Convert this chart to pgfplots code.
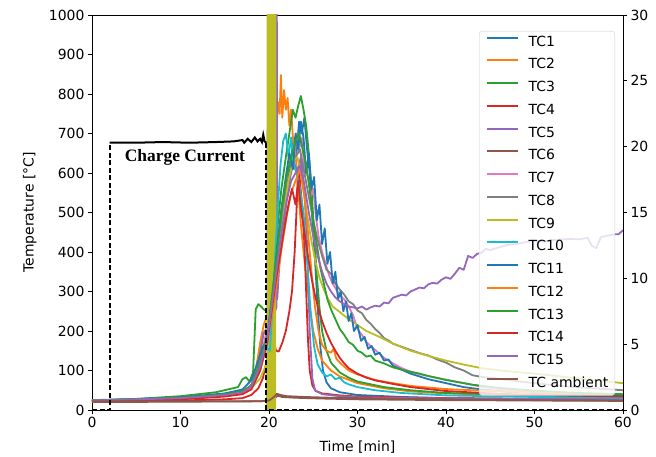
\documentclass[border=0pt]{standalone}
\usepackage{fontspec}
\setmainfont{DejaVu Sans}
\newfontfamily\timesfont{Liberation Serif}
\usepackage{pgfplots}
\pgfplotsset{compat=1.18}
\definecolor{c0}{HTML}{1F77B4}
\definecolor{c1}{HTML}{FF7F0E}
\definecolor{c2}{HTML}{2CA02C}
\definecolor{c3}{HTML}{D62728}
\definecolor{c4}{HTML}{9467BD}
\definecolor{c5}{HTML}{8C564B}
\definecolor{c6}{HTML}{E377C2}
\definecolor{c7}{HTML}{7F7F7F}
\definecolor{c8}{HTML}{BCBD22}
\definecolor{c9}{HTML}{17BECF}
\definecolor{lgray}{HTML}{CCCCCC}
\pgfplotsset{
  common/.style={
    at={(0,0)}, anchor=south west, scale only axis,
    width=531bp, height=395bp, xmin=0, xmax=60,
    tick align=outside, major tick length=4bp,
    axis line style={line width=0.8bp},
    every tick/.style={black, line width=0.8bp},
    tick label style={font=\fontsize{14}{16}\selectfont},
    label style={font=\fontsize{14}{16}\selectfont},
    /pgf/number format/assume math mode=true,
    /pgf/number format/1000 sep={},
    scaled ticks=false,
  },
  tc/.style={line width=1.8bp, no markers, line join=round},
}
\begin{document}
\begin{tikzpicture}
\path[use as bounding box] (-92bp,-47bp) rectangle (564bp,410bp);
\begin{axis}[common,
  ymin=0, ymax=1000,
  xtick={0,10,...,60}, ytick={0,100,...,1000},
  xtick pos=bottom, ytick pos=left,
  xlabel={Time [min]}, ylabel={Temperature [°C]},
  xlabel style={at={(axis description cs:0.5,-0.0937)}, anchor=center},
  ylabel style={at={(axis description cs:-0.117,0.5)}, anchor=center, rotate=0},
  legend cell align=left,
  legend image code/.code={\draw[#1, line width=2bp] (0bp,5bp) -- (31bp,5bp);},
  legend style={at={(0.985,0.9595)}, anchor=north east,
    draw=lgray, rounded corners=3bp, fill=white, fill opacity=0.8, text opacity=1,
    inner xsep=6.5bp, inner ysep=5bp, row sep=9.75bp, column sep=10bp,
    font=\fontsize{14}{16}\selectfont,
    nodes={inner sep=0pt, text height=10bp, text depth=3bp, anchor=west}},
]
\addplot[tc, c0] coordinates {(0,24)(5,26)(10,31)(14,38)(16,44)(17.5,50)(18.2,70)(18.8,130)(19.3,190)(19.7,205)(20,190)(20.5,280)(21,380)(21.5,470)(22,560)(22.4,620)(22.8,690)(23.1,650)(23.4,730)(23.7,700)(24,740)(24.3,660)(24.6,600)(24.9,480)(25.2,380)(25.5,260)(25.8,160)(26.1,100)(26.5,70)(27,55)(28,45)(30,38)(35,33)(40,30)(50,28)(60,27)};
\addlegendentry{TC1}
\addplot[tc, c1] coordinates {(0,23)(5,25)(10,29)(14,35)(17,44)(18,60)(18.5,100)(19,170)(19.4,215)(19.8,240)(20.3,420)(20.7,640)(21,780)(21.2,750)(21.35,848)(21.5,740)(21.7,810)(21.9,760)(22.1,790)(22.3,720)(22.5,760)(22.7,690)(23,650)(23.3,560)(23.6,470)(24,380)(24.5,280)(25,200)(25.5,155)(26,125)(27,100)(28,85)(30,68)(33,55)(36,47)(40,42)(50,36)(60,34)};
\addlegendentry{TC2}
\addplot[tc, c2] coordinates {(0,25)(5,28)(10,35)(14,45)(16.5,58)(17,78)(17.4,83)(17.8,72)(18.2,95)(18.5,255)(18.8,268)(19.1,262)(19.4,255)(19.7,250)(20,245)(20.4,320)(20.9,450)(21.4,560)(21.9,640)(22.3,700)(22.7,760)(23,740)(23.3,770)(23.6,795)(23.9,760)(24.2,720)(24.5,650)(24.8,560)(25.1,450)(25.4,340)(25.7,260)(26,200)(26.5,150)(27,120)(28,95)(29,82)(30,72)(33,58)(36,50)(40,43)(50,37)(60,35)};
\addlegendentry{TC3}
\addplot[tc, c3] coordinates {(0,22)(10,24)(15,27)(17,30)(18,38)(18.8,55)(19.3,80)(19.7,120)(20.1,160)(20.5,175)(20.8,150)(21.1,148)(21.5,170)(21.9,200)(22.3,250)(22.6,300)(22.9,400)(23.1,500)(23.3,615)(23.5,580)(23.8,500)(24,420)(24.2,300)(24.4,180)(24.6,100)(24.9,62)(25.3,48)(26,42)(28,37)(30,34)(40,30)(50,28)(60,27)};
\addlegendentry{TC4}
\addplot[tc, c4] coordinates {(0,23)(10,29)(15,36)(17,44)(18,58)(18.6,90)(19,140)(19.4,195)(19.7,205)(20,190)(20.4,230)(20.84,260)(20.88,1100)(20.93,280)(21.2,380)(21.6,460)(22,530)(22.4,590)(22.8,630)(23.2,600)(23.6,640)(24,560)(24.3,420)(24.6,200)(24.9,80)(25.2,50)(26,40)(28,35)(30,32)(40,29)(50,28)(60,27)};
\addlegendentry{TC5}
\addplot[tc, c5] coordinates {(0,20)(10,21)(19,22)(20,24)(20.6,30)(21,36)(21.5,33)(23,31)(26,29)(30,27)(40,25)(50,24)(60,23)};
\addlegendentry{TC6}
\addplot[tc, c6] coordinates {(0,22)(5,24)(10,29)(15,38)(17,46)(18,58)(18.7,90)(19.2,140)(19.7,200)(20.3,290)(20.8,380)(21.3,470)(21.7,540)(22.1,600)(22.5,640)(22.8,610)(23.1,700)(23.4,660)(23.7,690)(24,610)(24.4,590)(24.7,540)(25,560)(25.3,490)(25.6,440)(26,400)(26.4,370)(26.8,340)(27.2,320)(27.6,305)(28,290)(28.5,280)(29,262)(29.5,240)(30,205)(30.5,190)(31,172)(32,152)(33,132)(34,118)(35,106)(36,97)(37,91)(38,86)(40,77)(42,68)(44,59)(46,53)(50,46)(55,41)(60,38)};
\addlegendentry{TC7}
\addplot[tc, c7] coordinates {(0,24)(10,30)(15,38)(17,45)(18,58)(19,110)(19.7,170)(20.3,280)(20.9,400)(21.5,500)(22,560)(22.5,610)(23,640)(23.5,660)(24,600)(24.5,540)(25,480)(25.5,430)(26,390)(26.5,355)(27,345)(27.5,320)(28,305)(28.5,292)(29,275)(29.5,268)(30,252)(30.5,245)(31,228)(31.5,218)(32,205)(32.5,195)(33,182)(33.5,176)(34,168)(35,160)(36,152)(37,144)(38,138)(39,128)(40,120)(41,108)(42,100)(43,88)(44,84)(46,79)(48,73)(50,68)(52,63)(55,57)(58,53)(60,50)};
\addlegendentry{TC8}
\addplot[tc, c8] coordinates {(0,24)(10,30)(15,38)(17,45)(18,55)(19,80)(19.7,115)(19.80,0)(19.83,1100)(19.86,0)(19.89,1100)(19.92,0)(19.95,1100)(19.98,0)(20.01,1100)(20.04,0)(20.07,1100)(20.10,0)(20.13,1100)(20.16,0)(20.19,1100)(20.22,0)(20.25,1100)(20.28,0)(20.31,1100)(20.34,0)(20.37,1100)(20.40,0)(20.43,1100)(20.46,0)(20.49,1100)(20.52,0)(20.55,1100)(20.58,0)(20.61,1100)(20.64,0)(20.67,1100)(20.70,0)(20.72,1100)(20.74,300)(21.2,400)(21.7,500)(22.2,580)(22.7,630)(23.2,640)(23.7,590)(24.2,510)(24.7,440)(25.2,380)(25.7,335)(26.2,305)(26.7,280)(27.2,262)(28,248)(29,230)(30,215)(31,200)(32.5,185)(34,168)(36,150)(38,137)(40,125)(42,115)(44,106)(47,98)(50,92)(55,80)(60,68)};
\addlegendentry{TC9}
\addplot[tc, c9] coordinates {(0,23)(10,30)(15,37)(17,44)(18,55)(18.8,90)(19.3,140)(19.7,160)(20.1,150)(20.5,300)(20.9,480)(21.3,620)(21.6,680)(21.9,700)(22.2,640)(22.5,690)(22.8,620)(23.1,600)(23.5,560)(23.9,500)(24.3,380)(24.7,250)(25.1,160)(25.5,115)(26,95)(26.5,85)(27,90)(27.5,78)(28,82)(28.5,70)(29,65)(30,58)(32,50)(35,43)(40,37)(50,33)(60,31)};
\addlegendentry{TC10}
\addplot[tc, c0] coordinates {(0,24)(10,32)(15,42)(17,52)(18,75)(18.7,120)(19.3,160)(19.8,175)(20.4,290)(20.9,410)(21.4,510)(21.9,590)(22.3,650)(22.7,610)(23,700)(23.3,660)(23.6,730)(23.9,690)(24.2,600)(24.5,650)(24.8,560)(25.1,590)(25.4,480)(25.7,520)(26,420)(26.3,460)(26.6,370)(26.9,400)(27.2,320)(27.5,350)(27.8,280)(28.1,300)(28.4,250)(28.7,275)(29,225)(29.3,245)(29.6,200)(30,215)(30.4,175)(30.8,185)(31.2,155)(31.6,162)(32,140)(32.5,145)(33,125)(33.5,128)(34,112)(35,102)(36,92)(37,85)(38,78)(40,68)(42,58)(44,52)(47,46)(50,43)(55,39)(60,36)};
\addlegendentry{TC11}
\addplot[tc, c1] coordinates {(0,23)(10,29)(15,36)(17,43)(18,55)(19,100)(19.8,170)(20.4,250)(21,340)(21.5,420)(22,490)(22.5,550)(23,580)(23.5,610)(24,540)(24.4,450)(24.8,350)(25.2,260)(25.6,200)(26,165)(26.5,150)(27,145)(27.3,155)(27.6,130)(28,120)(28.5,110)(29,100)(30,90)(32,76)(34,68)(36,61)(40,53)(45,48)(50,45)(55,42)(60,40)};
\addlegendentry{TC12}
\addplot[tc, c2] coordinates {(0,24)(10,31)(15,40)(17,48)(18,62)(19,120)(19.8,190)(20.4,300)(21,420)(21.5,520)(22,590)(22.5,640)(23,680)(23.4,700)(23.8,660)(24.2,620)(24.6,560)(25,480)(25.4,420)(25.8,360)(26.2,320)(26.6,280)(27,255)(27.5,230)(28,205)(28.5,190)(29,172)(29.5,165)(30,150)(30.5,145)(31,135)(31.5,138)(32,125)(33,118)(34,108)(35,102)(36,97)(37,92)(38,86)(40,76)(43,64)(46,56)(50,49)(55,43)(60,40)};
\addlegendentry{TC13}
\addplot[tc, c3] coordinates {(0,22)(10,27)(15,34)(17,40)(18,52)(19,100)(19.8,170)(20.3,250)(20.8,330)(21.3,400)(21.8,470)(22.2,520)(22.6,560)(23,520)(23.3,580)(23.6,510)(24,450)(24.4,390)(24.8,335)(25.2,290)(25.6,255)(26,225)(26.5,195)(27,170)(27.5,150)(28,132)(28.5,118)(29,106)(30,92)(31,82)(32,75)(34,66)(36,58)(40,48)(45,42)(50,38)(55,36)(60,34)};
\addlegendentry{TC14}
\addplot[tc, c4] coordinates {(0,24)(10,30)(15,38)(17,45)(18,60)(19,110)(19.8,180)(20.4,280)(21,380)(21.5,460)(22,530)(22.5,580)(23,600)(23.5,620)(24,570)(24.5,500)(25,440)(25.5,390)(26,350)(26.5,320)(27,300)(27.5,285)(28,275)(28.5,268)(29,262)(29.5,260)(30,257)(30.5,262)(31,254)(31.5,260)(32,264)(32.5,262)(33,272)(33.5,270)(34,284)(34.5,288)(35,292)(35.5,290)(36,300)(36.5,305)(37,310)(37.5,308)(38,318)(38.5,322)(39,320)(39.5,330)(40,336)(40.5,332)(41,345)(41.5,360)(42,355)(42.5,390)(43,385)(43.5,395)(44,398)(44.5,408)(45,405)(46,412)(47,418)(48,420)(49,425)(50,428)(51,426)(52,430)(53,432)(54,433)(55,432)(56,436)(56.5,415)(57,410)(57.5,438)(58,440)(59,445)(59.5,445)(60,455)};
\addlegendentry{TC15}
\addplot[tc, c5] coordinates {(0,22)(5,22)(10,22)(15,22)(19,22)(20,24)(20.5,32)(20.9,41)(21.3,38)(22,35)(24,33)(27,31)(30,30)(35,28)(40,27)(50,25)(60,24)};
\addlegendentry{TC ambient}
\node[font=\timesfont\bfseries\fontsize{17.5}{20}\selectfont] at (axis cs:10.5,640) {Charge Current};
\end{axis}
\begin{axis}[common,
  ymin=0, ymax=30,
  axis x line=none, axis y line*=right,
  ytick={0,5,...,30},
]
\addplot[line width=2bp, black, dash pattern=on 5bp off 2.5bp, no markers] coordinates {(0,0)(2,0)(2,20.3)};
\addplot[line width=2bp, black, no markers] coordinates {(2,20.3)(5,20.3)(8,20.35)(11,20.3)(14,20.35)(16,20.4)(17,20.5)(17.2,20.3)(17.6,20.6)(18,20.35)(18.4,20.7)(18.7,20.4)(19,20.6)(19.2,20.35)(19.35,20.9)(19.5,20.4)(19.7,20.3)};
\addplot[line width=2bp, black, dash pattern=on 5bp off 2.5bp, no markers] coordinates {(19.7,20.3)(19.7,0)(60,0)};
\end{axis}
\end{tikzpicture}
\end{document}
